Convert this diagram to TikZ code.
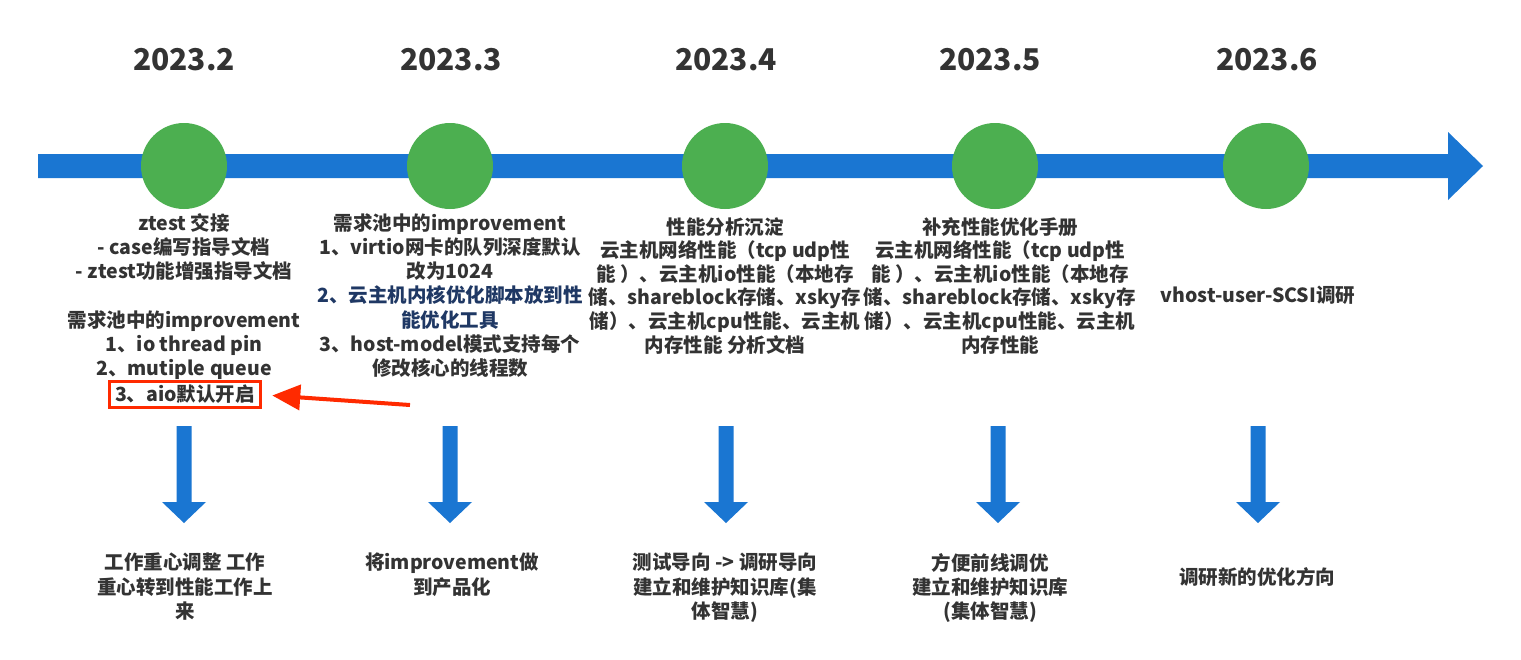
\documentclass[tikz,border=0pt]{standalone}
\usepackage{fontspec}
\setmainfont{Noto Sans CJK SC}
\usetikzlibrary{arrows.meta}
\definecolor{tlblue}{HTML}{1A76D2}
\definecolor{tlgreen}{HTML}{4CAF50}
\definecolor{txtgray}{HTML}{333333}
\definecolor{navytxt}{HTML}{1F3864}
\definecolor{hlred}{HTML}{FF2A00}
\tikzset{
  yearlabel/.style={font=\fontsize{30}{36}\selectfont\bfseries, text=txtgray, inner sep=0},
  body/.style={font=\fontsize{19.5}{24.3}\selectfont\bfseries, text=txtgray, align=center, inner sep=0, anchor=north},
  bodyc/.style={font=\fontsize{19.5}{23.6}\selectfont\bfseries, text=txtgray, align=center, inner sep=0, anchor=north},
  milestone/.style={circle, fill=tlgreen, minimum size=86pt, inner sep=0},
  hlbox/.style={draw=hlred, line width=3.5pt, fill=white, minimum width=151pt, minimum height=26pt, inner sep=0,
     font=\fontsize{19.5}{24.3}\selectfont\bfseries, text=txtgray},
  hlarrow/.style={draw=hlred, line width=4pt, -{Triangle[length=28pt,width=25pt]}},
}
\begin{document}
\begin{tikzpicture}[x=1pt,y=-1pt]
\useasboundingbox[fill=white] (0,0) rectangle (1521,659);
% main timeline arrow
\fill[tlblue] (38,154) -- (1448,154) -- (1448,132) -- (1483,166) -- (1448,200) -- (1448,178) -- (38,178) -- cycle;
% milestones
\node[milestone] (m1) at (184,166) {};
\node[milestone] (m2) at (450,166) {};
\node[milestone] (m3) at (725,166) {};
\node[milestone] (m4) at (995,166) {};
\node[milestone] (m5) at (1266,166) {};
% years
\node[yearlabel] (y1) at (184,60) {2023.2};
\node[yearlabel] (y2) at (451,60) {2023.3};
\node[yearlabel] (y3) at (726,60) {2023.4};
\node[yearlabel] (y4) at (990,60) {2023.5};
\node[yearlabel] (y5) at (1267,60) {2023.6};
% down arrows
\foreach \x in {184,450,726,998,1258}{
  \fill[tlblue] (\x-7.5,426) -- (\x+7.5,426) -- (\x+7.5,502) -- (\x+22,502) -- (\x,523) -- (\x-22,502) -- (\x-7.5,502) -- cycle;
}
% upper texts
\node[body] (t1a) at (184,213) {ztest 交接\\- case编写指导文档\\- ztest功能增强指导文档};
\node[body] (t1b) at (184,310) {需求池中的improvement\\1、io thread pin\\2、mutiple queue};
\node[hlbox] (t1c) at (185,394.5) {3、aio默认开启};
\node[body] (t2) at (450,213) {需求池中的improvement\\1、virtio网卡的队列深度默认\\改为1024\\\textcolor{navytxt}{2、云主机内核优化脚本放到性}\\\textcolor{navytxt}{能优化工具}\\3、host-model模式支持每个\\修改核心的线程数};
\node[bodyc] (t3) at (725,217) {性能分析沉淀\\云主机网络性能（tcp udp性\\能 ）、云主机io性能（本地存\\储、shareblock存储、xsky存\\储）、云主机cpu性能、云主机\\内存性能 分析文档};
\node[bodyc] (t4) at (1000,217) {补充性能优化手册\\云主机网络性能（tcp udp性\\能 ）、云主机io性能（本地存\\储、shareblock存储、xsky存\\储）、云主机cpu性能、云主机\\内存性能};
\node[body, anchor=center] (t5) at (1258,295) {vhost-user-SCSI调研};
% red pointer
\coordinate (redtail) at (410,405);
\draw[hlarrow] (redtail) -- ([xshift=10pt,yshift=-1pt]t1c.east);
% lower texts
\node[body] (b1) at (185,553) {工作重心调整 工作\\重心转到性能工作上\\来};
\node[body] (b2) at (452,553) {将improvement做\\到产品化};
\node[body] (b3) at (725,553) {测试导向 -> 调研导向\\建立和维护知识库(集\\体智慧)};
\node[body] (b4) at (990,553) {方便前线调优\\建立和维护知识库\\(集体智慧)};
\node[body, anchor=center] (b5) at (1257,577) {调研新的优化方向};
\end{tikzpicture}
\end{document}
